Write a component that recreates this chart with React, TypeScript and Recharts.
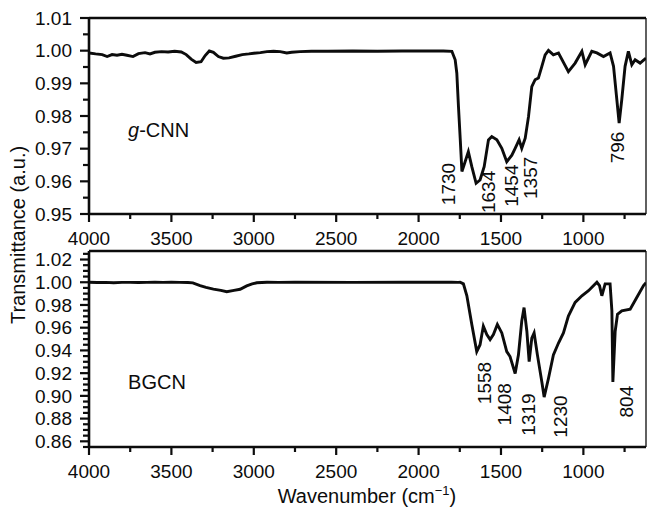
import React from "react";
import { LineChart, Line, XAxis, YAxis, ReferenceLine, ReferenceDot } from "recharts";

// g-CNN spectrum (wavenumber, transmittance)
const gcnnWn = [
  4000, 3960, 3920, 3890, 3860, 3830, 3800, 3770, 3733, 3700, 3660, 3630, 3600, 3560, 3520, 3480,
  3440, 3410, 3380, 3350, 3320, 3295, 3270, 3245, 3215, 3185, 3150, 3110, 3070, 3030, 3000, 2960,
  2920, 2880, 2840, 2800, 2770, 2720, 2650, 2550, 2400, 2250, 2100, 1950, 1850, 1798, 1778, 1768,
  1758, 1747, 1737, 1724, 1698, 1677, 1651, 1627, 1602, 1576, 1556, 1525, 1495, 1465, 1434, 1414,
  1390, 1374, 1353, 1333, 1313, 1293, 1273, 1252, 1232, 1212, 1182, 1151, 1091, 1050, 1009, 989,
  949, 918, 878, 838, 817, 797, 783, 767, 747, 727, 706, 686, 656, 620,
];
const gcnnT = [
  0.9993, 0.999, 0.9988, 0.9982, 0.9988, 0.9986, 0.9989, 0.9986, 0.9982, 0.9991, 0.9994, 0.999,
  0.9995, 0.9997, 0.9996, 0.9998, 0.9996, 0.9988, 0.9974, 0.9964, 0.9966, 0.9985, 0.9999, 0.9995,
  0.9982, 0.9977, 0.9978, 0.9983, 0.9988, 0.999, 0.9992, 0.9994, 0.9997, 0.9998, 0.9997, 0.9993,
  0.9995, 0.9997, 0.9998, 0.9998, 0.9999, 0.9998, 0.9999, 0.9999, 0.9999, 0.9998, 0.9972, 0.9931,
  0.9829, 0.9727, 0.963, 0.965, 0.9691, 0.9645, 0.9594, 0.9604, 0.9645, 0.9727, 0.9737, 0.9727,
  0.9701, 0.966, 0.968, 0.9701, 0.9727, 0.9701, 0.9732, 0.9798, 0.989, 0.9911, 0.9916, 0.9952,
  0.9987, 1.0001, 0.9987, 0.9993, 0.9936, 0.9962, 0.9998, 0.9957, 0.9998, 0.9993, 0.9982, 0.9993,
  0.9952, 0.985, 0.9778, 0.985, 0.9952, 0.9998, 0.9957, 0.9972, 0.9962, 0.9977,
];

// BGCN spectrum
const bgcnWn = [
  4000, 3950, 3900, 3850, 3800, 3750, 3700, 3650, 3600, 3550, 3500, 3450, 3400, 3370, 3326, 3290,
  3245, 3200, 3164, 3120, 3083, 3043, 3010, 2982, 2920, 2850, 2750, 2400, 2100, 1800, 1760, 1748,
  1728, 1707, 1677, 1647, 1627, 1607, 1586, 1566, 1546, 1522, 1495, 1465, 1445, 1414, 1394, 1374,
  1360, 1343, 1329, 1313, 1299, 1279, 1252, 1238, 1212, 1182, 1151, 1121, 1091, 1050, 1009, 969,
  918, 902, 888, 868, 838, 827, 821, 807, 793, 767, 716, 676, 635, 620,
];
const bgcnT = [
  1.0, 0.9998, 0.9999, 0.9996, 0.9999, 0.9999, 0.9998, 0.9999, 1.0, 0.9999, 1.0, 0.9999, 0.9998,
  0.9995, 0.997, 0.9955, 0.994, 0.9928, 0.9917, 0.9928, 0.9938, 0.9968, 0.9985, 0.9995, 1.0,
  0.9999, 1.0, 0.9999, 1.0, 1.0, 0.9999, 1.0, 0.9986, 0.9881, 0.9629, 0.939, 0.945, 0.9614, 0.954,
  0.9495, 0.954, 0.9629, 0.9554, 0.939, 0.9346, 0.9197, 0.9361, 0.9658, 0.9777, 0.9569, 0.9302,
  0.9509, 0.9554, 0.9361, 0.9123, 0.8989, 0.9153, 0.9361, 0.9465, 0.9554, 0.9703, 0.9822, 0.9881,
  0.9926, 1.0, 0.997, 0.9881, 0.9986, 0.9986, 0.9748, 0.9123, 0.9569, 0.9718, 0.9748, 0.9762,
  0.9866, 0.997, 0.9995,
];

// peak annotations: label, wavenumber / transmittance where the label starts
const gcnnPeaks = ["1730", "1634", "1454", "1357", "796"];
const gcnnPeakWn = [1821, 1578, 1434, 1319, 791];
const gcnnPeakT = [0.9527, 0.9503, 0.9522, 0.9546, 0.9655];
const bgcnPeaks = ["1558", "1408", "1319", "1230", "804"];
const bgcnPeakWn = [1597, 1479, 1333, 1141, 740];
const bgcnPeakT = [0.8927, 0.874, 0.865, 0.8632, 0.881];

const xTicks = [4000, 3500, 3000, 2500, 2000, 1500, 1000];
const xMinor = [3750, 3250, 2750, 2250, 1750, 1250, 750];
const yTicksTop = [0.95, 0.96, 0.97, 0.98, 0.99, 1.0, 1.01];
const yTicksBottom = [0.86, 0.88, 0.9, 0.92, 0.94, 0.96, 0.98, 1.0, 1.02];

const gcnnData = gcnnWn.map((w, i) => ({ wn: w, t: gcnnT[i] }));
const bgcnData = bgcnWn.map((w, i) => ({ wn: w, t: bgcnT[i] }));

const allX = [...xTicks, ...xMinor].sort((a, b) => b - a);
const topY = [...yTicksTop];
yTicksTop.slice(0, -1).forEach((v) => topY.push(+(v + 0.005).toFixed(3)));
const botY = [0.855, ...yTicksBottom, 1.025];
yTicksBottom.slice(0, -1).forEach((v) => [0.005, 0.01, 0.015].forEach((d) => botY.push(+(v + d).toFixed(3))));

const FONT = "'Liberation Sans', Arial, Helvetica, sans-serif";
const INK = "#0c0c0c";
const FS = 19;

const XTick = (props: any) => {
  const { x, y, payload } = props;
  const major = payload.value % 500 === 0;
  return (
    <g>
      <line x1={x} y1={y} x2={x} y2={y + (major ? 8 : 5)} stroke={INK} strokeWidth={2.2} />
      {major && (
        <text x={x} y={y + 31} textAnchor="middle" fontSize={FS} fill={INK}>
          {payload.value}
        </text>
      )}
    </g>
  );
};

const makeYTick = (labels: number[]) => (props: any) => {
  const { x, y, payload } = props;
  const major = labels.some((v) => Math.abs(v - payload.value) < 1e-6);
  return (
    <g>
      <line x1={x - (major ? 9 : 6)} y1={y} x2={x} y2={y} stroke={INK} strokeWidth={2.2} />
      {major && (
        <text x={x - 17} y={y + 6.8} textAnchor="end" fontSize={FS} fill={INK}>
          {payload.value.toFixed(2)}
        </text>
      )}
    </g>
  );
};

const PeakText = (text: string) => (props: any) => (
  <text
    transform={`translate(${props.cx},${props.cy}) rotate(-90)`}
    dominantBaseline="central"
    fontSize={FS}
    fill={INK}
  >
    {text}
  </text>
);

function Panel({
  data,
  yDomain,
  yTicks,
  yLabels,
  peaks,
  peakWn,
  peakT,
  name,
  nameT,
}: any) {
  return (
    <LineChart width={647} height={260} data={data} margin={{ top: 18, right: 1, bottom: 0, left: 0 }}>
      <XAxis
        dataKey="wn"
        type="number"
        domain={[620, 4000]}
        reversed
        allowDataOverflow
        ticks={allX}
        interval={0}
        tickSize={0}
        tickMargin={0}
        tickLine={false}
        tick={XTick}
        axisLine={{ stroke: INK, strokeWidth: 2.6 }}
        height={46}
      />
      <YAxis
        type="number"
        domain={yDomain}
        allowDataOverflow
        ticks={yTicks}
        interval={0}
        tickSize={0}
        tickMargin={0}
        tickLine={false}
        tick={makeYTick(yLabels)}
        axisLine={{ stroke: INK, strokeWidth: 2.6 }}
        width={89}
      />
      <ReferenceLine y={yDomain[1]} stroke={INK} strokeWidth={2.6} />
      <ReferenceLine x={620} stroke={INK} strokeWidth={1.3} />
      <Line
        dataKey="t"
        type="linear"
        stroke={INK}
        strokeWidth={2.9}
        dot={false}
        isAnimationActive={false}
      />
      {peaks.map((p: string, i: number) => (
        <ReferenceDot key={p} x={peakWn[i]} y={peakT[i]} r={0} shape={PeakText(p)} />
      ))}
      <ReferenceDot
        x={3763}
        y={nameT}
        r={0}
        shape={(props: any) => (
          <text x={props.cx} y={props.cy} fontSize={20} fill={INK}>
            {name}
          </text>
        )}
      />
    </LineChart>
  );
}

export default function App() {
  return (
    <div
      style={{
        position: "absolute",
        left: 0,
        top: 0,
        width: 647,
        height: 508,
        background: "#fff",
        fontFamily: FONT,
      }}
    >
      <div style={{ position: "absolute", left: 0, top: 0 }}>
        <Panel
          data={gcnnData}
          yDomain={[0.95, 1.01]}
          yTicks={topY}
          yLabels={yTicksTop}
          peaks={gcnnPeaks}
          peakWn={gcnnPeakWn}
          peakT={gcnnPeakT}
          name={[<tspan key="g" fontStyle="italic">g</tspan>, "-CNN"]}
          nameT={0.9736}
        />
      </div>
      <div style={{ position: "absolute", left: 0, top: 233 }}>
        <Panel
          data={bgcnData}
          yDomain={[0.855, 1.0275]}
          yTicks={botY}
          yLabels={yTicksBottom}
          peaks={bgcnPeaks}
          peakWn={bgcnPeakWn}
          peakT={bgcnPeakT}
          name="BGCN"
          nameT={0.9058}
        />
      </div>
      <svg
        width={647}
        height={508}
        style={{ position: "absolute", left: 0, top: 0, pointerEvents: "none" }}
        fontFamily={FONT}
      >
        <text
          transform="translate(18,235) rotate(-90)"
          textAnchor="middle"
          dominantBaseline="central"
          fontSize={20}
          fill={INK}
        >
          Transmittance (a.u.)
        </text>
        <text x={367} y={503} textAnchor="middle" fontSize={20} fill={INK}>
          Wavenumber (cm
          <tspan fontSize={13} dy={-8}>−1</tspan>
          <tspan dy={8}>)</tspan>
        </text>
      </svg>
    </div>
  );
}
